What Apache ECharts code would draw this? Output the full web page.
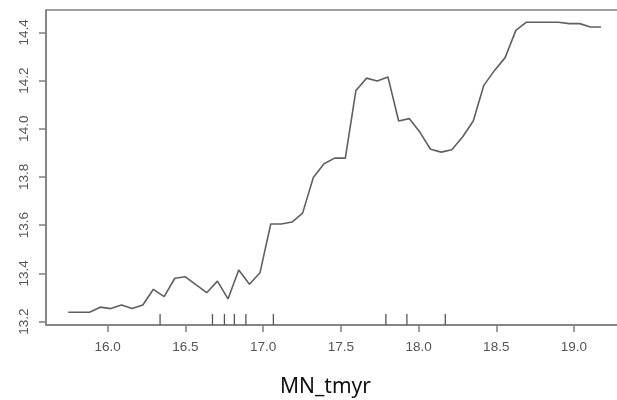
<!DOCTYPE html>
<html>
<head>
<meta charset="utf-8">
<script src="https://cdn.jsdelivr.net/npm/echarts@6/dist/echarts.min.js"></script>
<style>html,body{margin:0;padding:0;background:#fff;}#c{width:617px;height:400px;}</style>
</head>
<body>
<div id="c"></div>
<script>
// partial dependence of response on MN_tmyr
const xValues = [15.746,15.815,15.883,15.952,16.020,16.089,16.157,16.226,16.294,16.363,
  16.432,16.500,16.569,16.637,16.706,16.774,16.843,16.912,16.980,17.049,
  17.117,17.186,17.254,17.323,17.392,17.460,17.529,17.597,17.666,17.734,
  17.803,17.872,17.940,18.009,18.077,18.146,18.214,18.283,18.352,18.420,
  18.489,18.557,18.626,18.694,18.763,18.832,18.900,18.969,19.037,19.106,19.174];
const yValues = [13.239,13.239,13.239,13.260,13.254,13.269,13.254,13.269,13.334,13.304,
  13.380,13.386,13.352,13.320,13.368,13.294,13.414,13.355,13.403,13.605,
  13.605,13.613,13.650,13.798,13.855,13.878,13.878,14.159,14.210,14.198,
  14.215,14.032,14.042,13.985,13.915,13.903,13.913,13.966,14.032,14.180,
  14.242,14.295,14.408,14.442,14.442,14.442,14.442,14.436,14.436,14.422,14.422];
const rugValues = [16.337,16.674,16.751,16.815,16.889,17.066,17.790,17.925,18.172];
const xTicks = [16.0,16.5,17.0,17.5,18.0,18.5,19.0];
const yTicks = [13.2,13.4,13.6,13.8,14.0,14.2,14.4];
const xTitle = 'MN_tmyr';

const X_MIN = 15.603, X_MAX = 19.309, Y_MIN = 13.186, Y_MAX = 14.4925;
const axisGray = '#7f7f7f';
const labelGray = '#555555';
const chart = echarts.init(document.getElementById('c'), null, {renderer: 'canvas'});
chart.setOption({
  animation: false,
  backgroundColor: '#ffffff',
  grid: {left: 46, top: 10, width: 576, height: 315, outerBoundsMode: 'none', containLabel: false,
    show: true, borderColor: axisGray, borderWidth: 1.5, backgroundColor: 'transparent'},
  xAxis: {
    type: 'value', min: X_MIN, max: X_MAX,
    axisLine: {show: true, onZero: false, lineStyle: {color: axisGray, width: 1.5}},
    axisTick: {show: true, length: 7, customValues: xTicks, lineStyle: {color: axisGray, width: 1.5}},
    axisLabel: {customValues: xTicks, color: labelGray, fontSize: 13.5, fontFamily: 'Liberation Sans', margin: 15,
      formatter: v => v.toFixed(1)},
    splitLine: {show: false}
  },
  yAxis: {
    type: 'value', min: Y_MIN, max: Y_MAX,
    axisLine: {show: true, onZero: false, lineStyle: {color: axisGray, width: 1.5}},
    axisTick: {show: true, length: 7, customValues: yTicks, lineStyle: {color: axisGray, width: 1.5}},
    axisLabel: {customValues: yTicks, color: labelGray, fontSize: 13.5, fontFamily: 'Liberation Sans', margin: 15,
      rotate: 90, align: 'center', verticalAlign: 'bottom', formatter: v => v.toFixed(1)},
    splitLine: {show: false}
  },
  series: [
    {
      type: 'line', data: xValues.map((x, i) => [x, yValues[i]]),
      showSymbol: false, symbol: 'none', smooth: false,
      lineStyle: {color: '#606060', width: 1.6}
    },
    {
      type: 'custom',
      data: rugValues.map(v => [v]),
      renderItem: function (params, api) {
        const p = api.coord([api.value(0), Y_MIN]);
        return {type: 'line', shape: {x1: p[0], y1: p[1], x2: p[0], y2: p[1] - 11},
          style: {stroke: '#555555', lineWidth: 1.3}};
      }
    }
  ],
  graphic: [{
    type: 'text', left: 330 - 50, top: 377,
    style: {text: xTitle, fill: '#111111', font: '21px "Noto Sans"'}
  }]
});
</script>
</body>
</html>
